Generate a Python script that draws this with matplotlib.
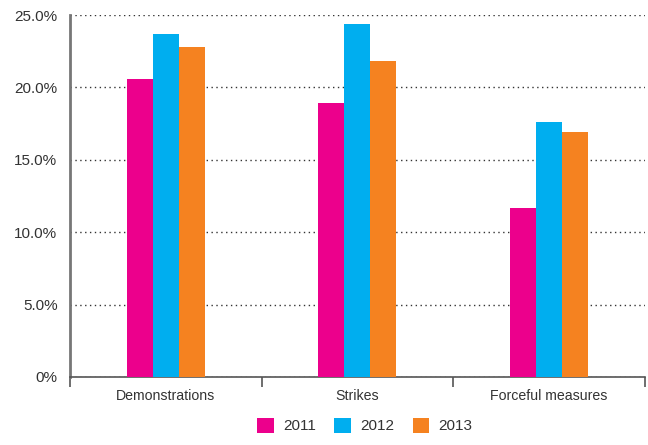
import numpy as np
import matplotlib.pyplot as plt
from matplotlib.ticker import FuncFormatter

categories = ['Demonstrations', 'Strikes', 'Forceful measures']
years = ['2011', '2012', '2013']
v2011 = [20.6, 18.9, 11.7]
v2012 = [23.7, 24.4, 17.6]
v2013 = [22.8, 21.8, 16.9]
colors = ['#ec008c', '#00aeef', '#f58220']

plt.rcParams['font.family'] = ['Liberation Sans Narrow', 'Liberation Sans', 'DejaVu Sans']

fig = plt.figure(figsize=(6.48, 4.45), dpi=100)
ax = fig.add_axes([0.108, 0.153, 0.887, 0.813])

x = np.arange(len(categories))
w = 0.136
for i, (vals, c, lab) in enumerate(zip([v2011, v2012, v2013], colors, years)):
    ax.bar(x + (i - 1) * w, vals, w, color=c, label=lab, zorder=3)

ax.set_xlim(-0.5, 2.5)
ax.set_ylim(0, 25)
ax.set_yticks(np.arange(0, 26, 5))
ax.yaxis.set_major_formatter(FuncFormatter(lambda v, p: '0%' if v == 0 else f'{v:.1f}%'))
ax.grid(axis='y', linestyle=(0, (1, 2.5)), color='#333333', linewidth=1.0, zorder=0)

# ticks at category boundaries, labels at centers
ax.set_xticks([-0.5, 0.5, 1.5, 2.5])
ax.set_xticklabels([])
ax.set_xticks(x, minor=True)
ax.set_xticklabels(categories, minor=True, fontsize=10.2, color='#333333')
ax.tick_params(axis='x', which='minor', length=0, pad=9)
ax.tick_params(axis='x', which='major', length=7, width=1.2, color='#555555')
ax.tick_params(axis='y', length=0, labelsize=11, labelcolor='#333333', pad=9)
for t in ax.get_yticklabels():
    t.set_family(['Liberation Sans', 'DejaVu Sans'])

for s in ['top', 'right']:
    ax.spines[s].set_visible(False)
ax.spines['left'].set_color('#777777')
ax.spines['left'].set_linewidth(2)
ax.spines['bottom'].set_color('#555555')
ax.spines['bottom'].set_linewidth(1.2)

leg = fig.legend(loc='lower center', bbox_to_anchor=(0.563, -0.005), ncol=3, frameon=False,
                 handlelength=1.1, handleheight=1.1, handletextpad=0.6, columnspacing=1.2,
                 prop={'family': ['Liberation Sans', 'DejaVu Sans'], 'size': 11})
for t in leg.get_texts():
    t.set_color('#333333')

fig.savefig('out.png', dpi=100)
